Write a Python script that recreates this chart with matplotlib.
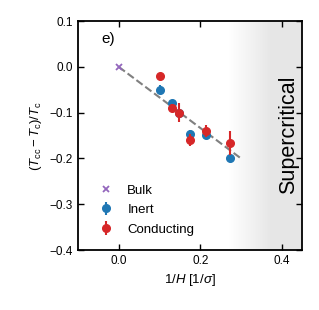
import numpy as np
import matplotlib
matplotlib.use("Agg")
import matplotlib.pyplot as plt
from matplotlib.colors import LinearSegmentedColormap

plt.rcParams['font.family'] = ['Liberation Sans', 'DejaVu Sans']
plt.rcParams['mathtext.fontset'] = 'custom'
plt.rcParams['mathtext.rm'] = 'Liberation Sans'
plt.rcParams['mathtext.it'] = 'Liberation Sans:italic'
plt.rcParams['mathtext.sf'] = 'Liberation Sans'

bulk_x = [0.0]
bulk_y = [0.0]

inert_x = [0.102, 0.130, 0.149, 0.176, 0.213, 0.272]
inert_y = [-0.050, -0.080, -0.100, -0.146, -0.148, -0.200]
inert_err = [0.010, 0.008, 0.008, 0.008, 0.008, 0.005]

cond_x = [0.102, 0.130, 0.149, 0.176, 0.213, 0.272]
cond_y = [-0.020, -0.089, -0.100, -0.159, -0.140, -0.167]
cond_err = [0.005, 0.008, 0.021, 0.013, 0.013, 0.026]

fit_x = [0.0, 0.30]
fit_y = [0.0, -0.20]

fig = plt.figure(figsize=(3.19, 3.10), dpi=100)
ax = fig.add_axes([0.2445, 0.1935, 0.7025, 0.7385])

# supercritical shading
grey = '#e6e6e6'
cmap = LinearSegmentedColormap.from_list('g', ['white', grey])
grad = np.linspace(0, 1, 256).reshape(1, -1)
ax.imshow(grad, extent=[0.27, 0.375, -0.4, 0.1], aspect='auto', cmap=cmap,
          zorder=0, interpolation='bilinear')
ax.axvspan(0.375, 0.45, color=grey, lw=0, zorder=0)

ax.plot(fit_x, fit_y, ls='--', color='gray', lw=1.5, zorder=1)
ax.plot(bulk_x, bulk_y, 'x', color='tab:purple', ms=4, mew=1.3, label='Bulk', zorder=3)
ax.errorbar(inert_x, inert_y, yerr=inert_err, fmt='o', color='tab:blue', ms=5.5,
            elinewidth=1.5, label='Inert', zorder=3)
ax.errorbar(cond_x, cond_y, yerr=cond_err, fmt='o', color='tab:red', ms=5.5,
            elinewidth=1.5, label='Conducting', zorder=4)

ax.set_xlim(-0.1, 0.45)
ax.set_ylim(-0.4, 0.1)
ax.set_xticks([0.0, 0.2, 0.4])
ax.set_yticks([-0.4, -0.3, -0.2, -0.1, 0.0, 0.1])
ax.tick_params(direction='in', top=True, right=True, labelsize=8.5, width=1.0, length=4)
for s in ax.spines.values():
    s.set_linewidth(1.3)

ax.set_xlabel(r'$1/H$ $[1/\sigma]$', fontsize=9.5)
ax.set_ylabel(r'$(T_{\rm cc}-T_{\rm c})/T_{\rm c}$', fontsize=9.5)

ax.text(0.105, 0.92, 'e)', transform=ax.transAxes, fontsize=11, va='center')
ax.text(0.418, -0.148, 'Supercritical', rotation=90, fontsize=15.5,
        ha='center', va='center')

ax.legend(loc='lower left', frameon=False, fontsize=9.5, handletextpad=0.8,
          handlelength=1.6, labelspacing=0.55,
          borderaxespad=0.0, bbox_to_anchor=(0.055, 0.04))

fig.savefig('out.png', dpi=100)
